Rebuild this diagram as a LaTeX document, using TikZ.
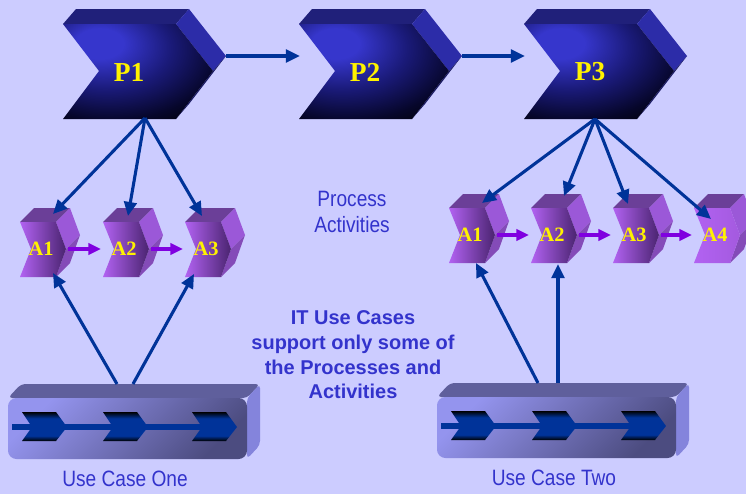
\documentclass[tikz,border=0pt]{standalone}
\usepackage{fontspec}
\setmainfont{Liberation Serif}
\setsansfont{Liberation Sans}
\newfontfamily\narrowsans[FakeStretch=0.86]{Liberation Sans}
\usetikzlibrary{arrows.meta}
\definecolor{bgpurple}{HTML}{CCCCFF}
\definecolor{txtblue}{HTML}{3333CC}
\definecolor{linkblue}{HTML}{003399}
\definecolor{actviolet}{HTML}{8000E0}
\definecolor{ptopc}{HTML}{20207A}
\definecolor{psidec}{HTML}{2C2CA8}
\definecolor{pglowc}{HTML}{3636CC}
\definecolor{pmidc}{HTML}{1A1A78}
\definecolor{pdarkc}{HTML}{06062A}
\definecolor{atopc}{HTML}{6B3F98}
\definecolor{asidec}{HTML}{9B58D8}
\definecolor{alightc}{HTML}{B262F2}
\definecolor{amidc}{HTML}{7040A8}
\definecolor{adarkc}{HTML}{4A2470}
\definecolor{utopc}{HTML}{5F5F9C}
\definecolor{usidec}{HTML}{8484DC}
\definecolor{ulightc}{HTML}{9494EE}
\definecolor{udarkc}{HTML}{4C4C80}
\pgfdeclareradialshading{pglow}{\pgfpoint{-14bp}{16bp}}{color(0bp)=(pglowc); color(8bp)=(pglowc); color(22bp)=(pmidc); color(36bp)=(pdarkc); color(46bp)=(black); color(100bp)=(black)}
\pgfdeclareverticalshading{chevband}{100bp}{color(0bp)=(black); color(25bp)=(black); color(34bp)=(linkblue); color(64bp)=(linkblue); color(75bp)=(black); color(100bp)=(black)}
\begin{document}
\begin{tikzpicture}[x=0.025cm, y=-0.025cm, line join=round,
	link/.style={draw=linkblue, line width=2.2pt, -{Triangle[length=10pt,width=9pt]}},
	flow/.style={draw=actviolet, line width=2.3pt, -{Triangle[length=9pt,width=8pt]}},
	plabel/.style={text=yellow, font=\fontsize{19.5}{20}\selectfont\bfseries},
	alabel/.style={text=yellow, font=\fontsize{14.5}{15}\selectfont\bfseries, inner sep=0pt},
	afront/.style={left color=alightc, middle color=amidc, right color=adarkc},
	afrontlit/.style={left color=alightc, right color=alightc!92!black},
	note/.style={text=txtblue, align=center}]
	\useasboundingbox (0,0) rectangle (746,494);
	\fill[bgpurple] (0,0) rectangle (746,494);
	% processes
	\foreach \n/\x in {P1/63,P2/299,P3/524}{
		\begin{scope}[shift={(\x,24)}]
			\fill[ptopc] (0,0)--(13,-15)--(126,-15)--(113,0)--cycle;
			\fill[psidec] (113,0)--(126,-15)--(163,32)--(150,47)--cycle;
			\fill[psidec!60!black] (150,47)--(163,32)--(126,80)--(113,95)--cycle;
			\shade[shading=pglow] (0,0)--(113,0)--(150,47)--(113,95)--(0,95)--(36,47)--cycle;
			\node[plabel] (\n) at (66,48) {\n};
			\coordinate (\n-in) at (1,32);
			\coordinate (\n-out) at (163,32);
		\end{scope}}
	% activities
	\foreach \n/\x/\y/\l/\f in {L1/20/222/A1/afront,L2/103/222/A2/afront,L3/185/222/A3/afront,R1/449/208/A1/afront,R2/531/208/A2/afront,R3/613/208/A3/afront,R4/694/208/A4/afrontlit}{
		\begin{scope}[shift={(\x,\y)}]
			\fill[atopc] (0,0)--(14,-14)--(50,-14)--(36,0)--cycle;
			\fill[asidec] (36,0)--(50,-14)--(60,13)--(46,27)--cycle;
			\fill[asidec!85!black] (46,27)--(60,13)--(50,41)--(36,55)--cycle;
			\shade[\f] (0,0)--(36,0)--(46,27)--(36,55)--(0,55)--(11,27)--cycle;
			\node[alabel] (\n) at (21,27) {\l};
			\coordinate (\n-in) at (-2,27);
			\coordinate (\n-out) at (48,27);
		\end{scope}}
	% use cases
	\foreach \n/\x/\y/\l in {U1/8/398/One,U2/437/397/Two}{
		\begin{scope}[shift={(\x,\y)}]
			\fill[utopc, rounded corners=3] (0,0)--(13,-14)--(252,-14)--(239,0)--cycle;
			\fill[usidec, rounded corners=3] (239,0)--(252,-14)--(252,47)--(239,61)--cycle;
			\shade[top color=ulightc, middle color=ulightc!85!udarkc, bottom color=udarkc, shading angle=45, rounded corners=6] (0,0) rectangle (239,61);
			\draw[linkblue, line width=4pt] (4,29)--(222,29);
			\foreach \c in {14,95,184}
			\shade[shading=chevband] (\c,14)--(\c+34,14)--(\c+45,29)--(\c+34,43)--(\c,43)--(\c+10,29)--cycle;
			\node[note, font=\narrowsans\fontsize{15.8}{18}\selectfont] (\n) at (117,81) {Use Case \l};
		\end{scope}}
	\node[note, font=\narrowsans\fontsize{15.8}{18.4}\selectfont] (proc) at (352,212) {Process\\Activities};
	\node[note, font=\sffamily\bfseries\fontsize{14.2}{17.5}\selectfont] (itnote) at (353,355) {IT Use Cases\\support only some of\\the Processes and\\Activities};
	% connectors
	\coordinate (P1s) at (145,118); \coordinate (P3s) at (595,119);
	\coordinate (L1t) at (53,214); \coordinate (L2t) at (128,216); \coordinate (L3t) at (202,216);
	\coordinate (R1t) at (482,203); \coordinate (R2t) at (564,196); \coordinate (R3t) at (628,204); \coordinate (R4t) at (711,219);
	\coordinate (L1b) at (53,273); \coordinate (L3b) at (194,274); \coordinate (R1b) at (476,263); \coordinate (R2b) at (558,264);
	\coordinate (U1a) at (117,384); \coordinate (U1b) at (133,384); \coordinate (U2a) at (538,383); \coordinate (U2b) at (558,383);
	\draw[link, line width=2.8pt] (P1-out) -- (P2-in);
	\draw[link, line width=2.8pt] (P2-out) -- (P3-in);
	\foreach \t in {L1t,L2t,L3t} \draw[link] (P1s) -- (\t);
	\foreach \t in {R1t,R2t,R3t,R4t} \draw[link] (P3s) -- (\t);
	\draw[link] (U1a) -- (L1b);
	\draw[link] (U1b) -- (L3b);
	\draw[link] (U2a) -- (R1b);
	\draw[link] (U2b) -- (R2b);
	\draw[flow] (L1-out) -- (L2-in);
	\draw[flow] (L2-out) -- (L3-in);
	\draw[flow] (R1-out) -- (R2-in);
	\draw[flow] (R2-out) -- (R3-in);
	\draw[flow] (R3-out) -- (R4-in);
\end{tikzpicture}
\end{document}
